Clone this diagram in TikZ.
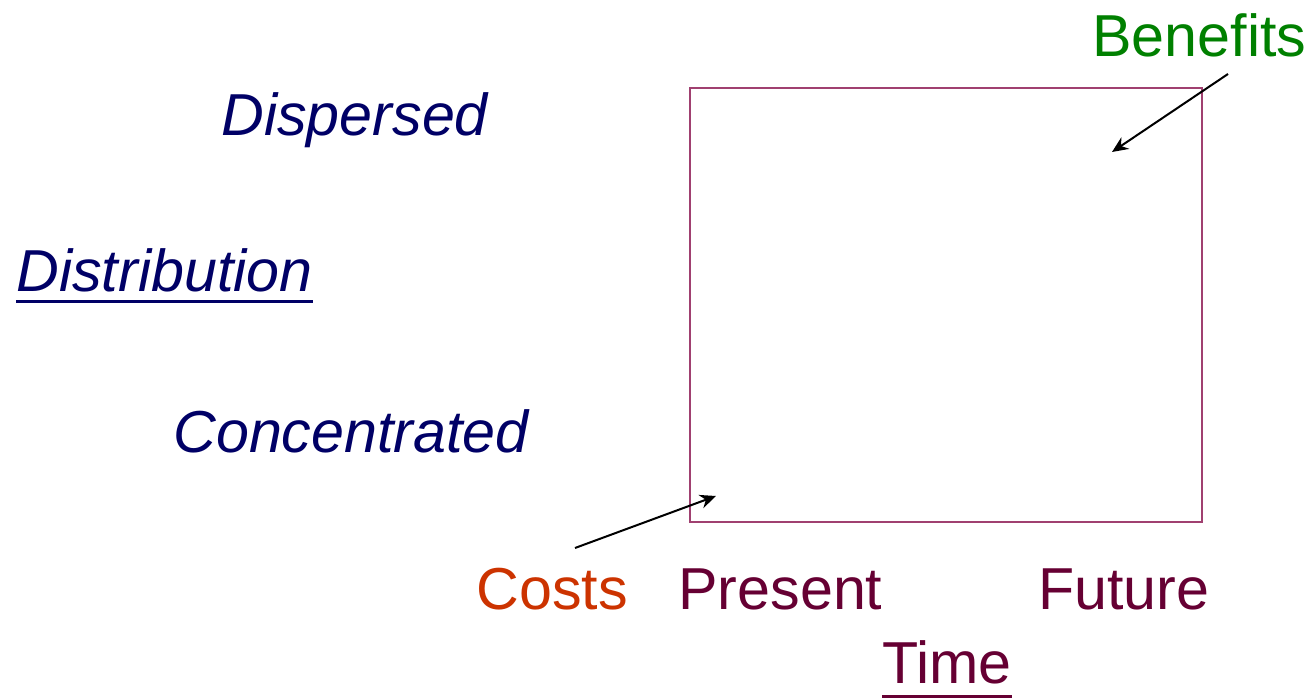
\documentclass[tikz,border=0pt]{standalone}
\usepackage{fontspec}
\setmainfont{Liberation Sans}
\usetikzlibrary{arrows.meta,
    positioning}

\definecolor{navytext}{HTML}{000066}
\definecolor{timetext}{HTML}{660033}
\definecolor{costtext}{HTML}{CC3300}
\definecolor{gaintext}{HTML}{008000}
\definecolor{boxline}{HTML}{A04070}

\tikzset{
    lbl/.style={anchor=base west, inner sep=0pt, font=\fontsize{29.6}{36}\selectfont},
    axislbl/.style={lbl, font=\fontsize{29.6}{36}\selectfont\itshape, text=navytext},
    pointer/.style={-{Stealth[length=8pt, width=7pt]}, line width=1pt, black}
}

\begin{document}
\begin{tikzpicture}[x=0.5pt, y=-0.5pt]
                  \useasboundingbox (0,0) rectangle (1311,699);
                  \draw[boxline, line width=0.9pt] (690,88) rectangle (1202,522);
                  \node[axislbl] (disp) at (221,136) {Dispersed};
                  \node[axislbl] (dist) at (16,292) {Distribution};
                  \node[axislbl] (conc) at (173,453) {Concentrated};
                  \node[lbl, text=gaintext] (ben) at (1092,57) {Benefits};
                  \node[lbl, text=costtext] (cost) at (476,610) {Costs};
                  \node[lbl, text=timetext] (pres) at (678,610) {Present};
                  \node[lbl, text=timetext] (fut) at (1038,610) {Future};
                  \node[lbl, text=timetext] (time) at (882,683) {Time};
                  \draw[navytext, line width=1.5pt] ([yshift=-5pt]dist.base west) -- ([yshift=-5pt]dist.base east);
                  \draw[timetext, line width=1.5pt] ([yshift=-6.5pt]time.base west) -- ([yshift=-6.5pt]time.base east);
                  \coordinate (benfrom) at (1228,74);
                  \coordinate (bento) at (1112,152);
                  \coordinate (costfrom) at (575,548);
                  \coordinate (costto) at (716,496);
                  \draw[pointer] (benfrom) -- (bento);
                  \draw[pointer] (costfrom) -- (costto);
              \end{tikzpicture}
\end{document}
